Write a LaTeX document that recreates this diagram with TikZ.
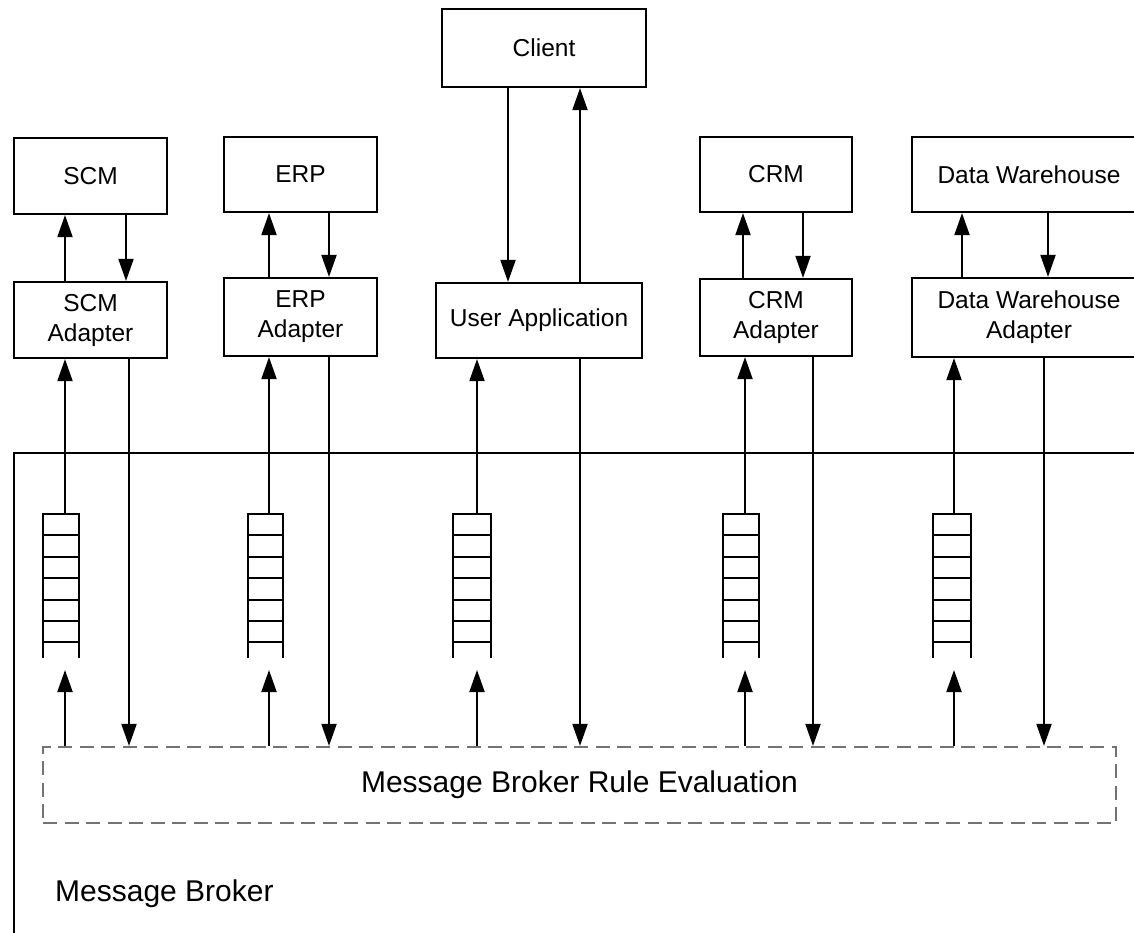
\documentclass[tikz,border=0pt]{standalone}
\usepackage{fontspec}
\setmainfont{Liberation Sans}
\usetikzlibrary{arrows.meta}
\newcommand\boxfont{\fontsize{24.5}{30}\selectfont}
\newcommand\bigfont{\fontsize{30}{36}\selectfont}
\newcommand\qbox[2]{%
  \draw[qline] (#1,658) -- (#1,514) -- (#2,514) -- (#2,658);
  \foreach \k in {1,...,6} \draw[qline] (#1,{514+21.4*\k}) -- (#2,{514+21.4*\k});}
\tikzset{
  box/.style={draw, line width=2.2pt, font=\boxfont, align=center, inner sep=0pt},
  arr/.style={line width=2pt, -{Triangle[length=22pt,width=15pt]}},
  plain/.style={line width=2pt},
  qline/.style={line width=1.9pt},
  rulebox/.style={draw=black!55, line width=2.2pt, dash pattern=on 14pt off 7.5pt, font=\bigfont, inner sep=0pt},
}
\begin{document}
\begin{tikzpicture}[x=1pt,y=-1pt]
\fill[white] (0,0) rectangle (1134,933);
\useasboundingbox (0,0) rectangle (1134,933);
\clip (0,0) rectangle (1134,933);

% outer message broker frame
\draw[plain] (14,960) |- (1160,453);
\node[anchor=base west, font=\bigfont, inner sep=0pt] (mb) at (55,901.5) {Message Broker};

% systems
\node[box, minimum width=153, minimum height=76] (scm) at (90.5,176) {SCM};
\node[box, minimum width=153, minimum height=76] (scmA) at (90.5,320) {SCM\\Adapter};
\node[box, minimum width=153, minimum height=75] (erp) at (300.5,174.5) {ERP};
\node[box, minimum width=153, minimum height=78] (erpA) at (300.5,317) {ERP\\Adapter};
\node[box, minimum width=204, minimum height=78] (client) at (544,48) {Client};
\node[box, minimum width=206, minimum height=75] (user) at (539,320.5) {User Application};
\node[box, minimum width=152, minimum height=75] (crm) at (776,174.5) {CRM};
\node[box, minimum width=152, minimum height=77] (crmA) at (776,317.5) {CRM\\Adapter};
\node[box, minimum width=234, minimum height=75] (dw) at (1029,174.5) {Data Warehouse};
\node[box, minimum width=234, minimum height=79] (dwA) at (1029,317.5) {Data Warehouse\\Adapter};

% rule evaluation
\node[rulebox, minimum width=1073, minimum height=76] (rule) at (579.5,785) {Message Broker Rule Evaluation};

% queues
\qbox{43}{79}
\qbox{248}{283}
\qbox{453}{491}
\qbox{723}{759}
\qbox{933}{971}

% helper coordinates
\coordinate (qt) at (0,514);
\coordinate (qb) at (0,670);
\coordinate (a1) at (65,0);   \coordinate (d1u) at (126,0); \coordinate (d1) at (129,0);
\coordinate (a2) at (269,0);  \coordinate (d2) at (329,0);
\coordinate (a3) at (477,0);  \coordinate (c3d) at (508,0); \coordinate (d3) at (580,0);
\coordinate (a4u) at (743,0); \coordinate (a4) at (745,0); \coordinate (d4u) at (803,0); \coordinate (d4) at (813,0);
\coordinate (a5u) at (962,0); \coordinate (a5) at (954,0); \coordinate (d5u) at (1048,0); \coordinate (d5) at (1044,0);

% system <-> adapter
\draw[arr] (scmA.north -| a1) -- (scm.south -| a1);
\draw[arr] (scm.south -| d1u) -- (scmA.north -| d1u);
\draw[arr] (erpA.north -| a2) -- (erp.south -| a2);
\draw[arr] (erp.south -| d2) -- (erpA.north -| d2);
\draw[arr] (client.south -| c3d) -- (user.north -| c3d);
\draw[arr] (user.north -| d3) -- (client.south -| d3);
\draw[arr] (crmA.north -| a4u) -- (crm.south -| a4u);
\draw[arr] (crm.south -| d4u) -- (crmA.north -| d4u);
\draw[arr] (dwA.north -| a5u) -- (dw.south -| a5u);
\draw[arr] (dw.south -| d5u) -- (dwA.north -| d5u);

% queue -> adapter
\draw[arr] (a1 |- qt) -- (scmA.south -| a1);
\draw[arr] (a2 |- qt) -- (erpA.south -| a2);
\draw[arr] (a3 |- qt) -- (user.south -| a3);
\draw[arr] (a4 |- qt) -- (crmA.south -| a4);
\draw[arr] (a5 |- qt) -- (dwA.south -| a5);

% rule -> queue
\draw[arr] (rule.north -| a1) -- (a1 |- qb);
\draw[arr] (rule.north -| a2) -- (a2 |- qb);
\draw[arr] (rule.north -| a3) -- (a3 |- qb);
\draw[arr] (rule.north -| a4) -- (a4 |- qb);
\draw[arr] (rule.north -| a5) -- (a5 |- qb);

% adapter -> rule
\draw[arr] (scmA.south -| d1) -- (rule.north -| d1);
\draw[arr] (erpA.south -| d2) -- (rule.north -| d2);
\draw[arr] (user.south -| d3) -- (rule.north -| d3);
\draw[arr] (crmA.south -| d4) -- (rule.north -| d4);
\draw[arr] (dwA.south -| d5) -- (rule.north -| d5);
\end{tikzpicture}
\end{document}
